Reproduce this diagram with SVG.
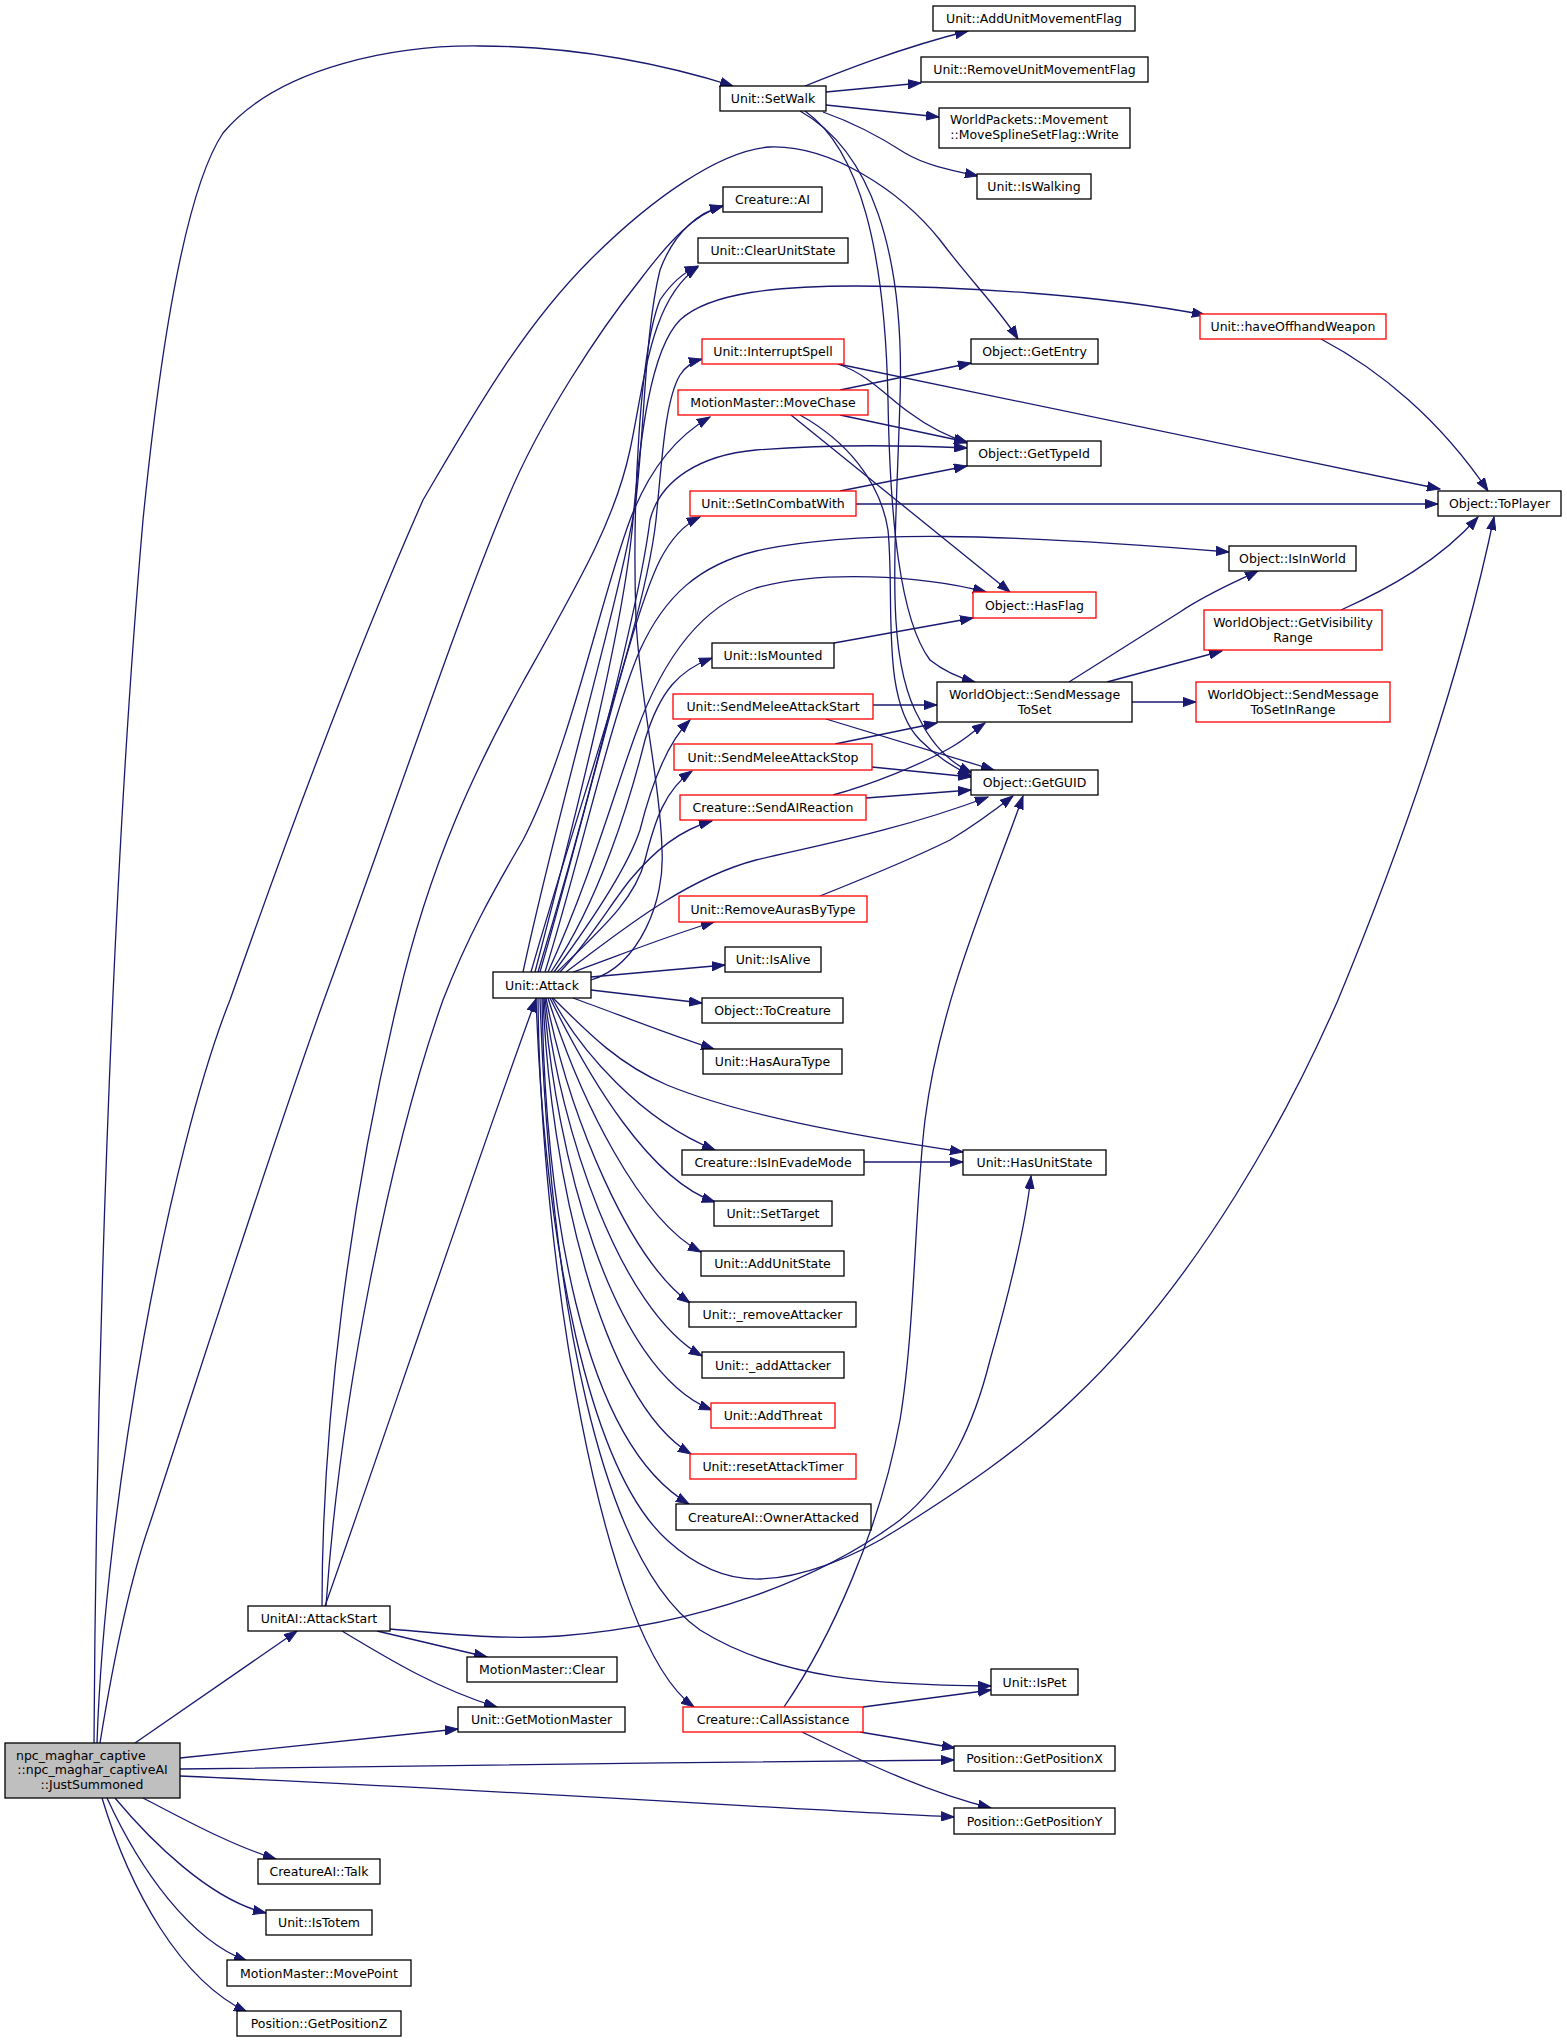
<svg xmlns="http://www.w3.org/2000/svg" width="1567" height="2043" viewBox="0 0 1567 2043">
<style>
.n rect{fill:#fff;stroke:#000;stroke-width:1.3}
.r rect{fill:#fff;stroke:#ff0000;stroke-width:1.3}
.m rect{fill:#bfbfbf;stroke:#000;stroke-width:1.3}
text{font-family:"DejaVu Sans","Liberation Sans",sans-serif;font-size:12.5px;text-anchor:middle;fill:#000}
text.s{text-anchor:start}
#edges path{fill:none;stroke:#191970;stroke-width:1.3;marker-end:url(#ah)}
</style>
<defs>
<marker id="ah" markerUnits="userSpaceOnUse" markerWidth="14" markerHeight="10" viewBox="0 0 14 10" refX="13" refY="5" orient="auto"><path d="M0,0.4 L13,5 L0,9.6 Z" fill="#191970" stroke="#191970" stroke-width="1"/></marker>
</defs>
<rect width="1567" height="2043" fill="#fff"/>
<g id="edges">
<path d="M94,1743 C96,1400 110,900 143,520 C160,350 185,190 223,133 C280,65 400,45 480,46 C580,46 670,66 733,86"/>
<path d="M97,1743 C105,1500 170,1150 230,1000 C300,800 370,620 423,500 C470,420 520,330 590,260 C650,200 720,150 770,147 C830,145 900,190 940,240 C970,280 1000,310 1018,339"/>
<path d="M100,1743 C115,1650 130,1580 150,1523 C210,1340 270,1150 324,1000 C390,820 460,610 507,500 C540,420 600,330 640,280 C670,240 695,214 723,206"/>
<path d="M135,1743 L297,1631"/>
<path d="M180,1758 L458,1729"/>
<path d="M180,1769 C400,1766 700,1762 954,1760"/>
<path d="M180,1776 C500,1790 800,1810 954,1817"/>
<path d="M143,1798 C180,1817 230,1845 276,1859"/>
<path d="M115,1798 C150,1840 210,1900 266,1913"/>
<path d="M107,1798 C140,1870 190,1940 247,1961"/>
<path d="M102,1798 C130,1890 180,1980 247,2012"/>
<path d="M325,1606 C370,1480 470,1180 536,999"/>
<path d="M377,1631 L487,1657"/>
<path d="M342,1631 C390,1660 440,1690 497,1707"/>
<path d="M390,1629 C450,1634 500,1640 560,1636 C700,1625 820,1580 900,1520 C950,1480 975,1420 990,1360 C1010,1290 1025,1230 1031,1176"/>
<path d="M322,1606 C322,1420 350,1200 398,1000 C430,860 480,760 523,682 C580,580 615,520 630,450 C645,380 650,300 698,267"/>
<path d="M326,1606 C340,1400 390,1150 443,1000 C470,930 500,880 523,840 C570,750 600,600 630,520 C645,480 670,440 710,417"/>
<path d="M523,972 C560,800 620,600 636,500 C645,420 645,330 660,270 C675,230 700,212 723,206"/>
<path d="M591,980 C640,965 665,900 662,850 C660,780 640,700 636,620 C632,500 640,350 660,300 C670,285 682,273 698,266"/>
<path d="M531,972 C580,800 645,620 656,520 C662,460 665,400 680,375 C686,366 694,361 702,359"/>
<path d="M535,972 C580,800 625,620 633,520 C640,440 650,350 680,320 C710,292 780,286 856,286 C960,286 1100,295 1205,315"/>
<path d="M540,972 C590,800 630,620 660,560 C672,537 685,524 700,517"/>
<path d="M538,972 C590,800 640,600 650,520 C660,480 700,455 756,450 C830,444 900,445 967,448"/>
<path d="M545,972 C580,860 610,720 640,650 C665,595 700,565 756,551 C850,530 1000,533 1229,552"/>
<path d="M548,972 C590,880 615,790 636,733 C655,680 690,610 756,588 C820,570 920,575 986,592"/>
<path d="M551,972 C600,900 630,800 645,740 C660,690 680,670 712,658"/>
<path d="M554,972 C600,910 630,860 640,830 C650,790 665,745 690,720"/>
<path d="M557,972 C600,930 635,900 645,860 C655,820 665,790 692,771"/>
<path d="M560,972 C590,940 610,905 630,880 C655,850 680,830 712,821"/>
<path d="M566,972 C610,940 680,880 756,860 C820,845 900,830 988,797"/>
<path d="M573,972 C620,955 670,935 714,922"/>
<path d="M591,977 L725,965"/>
<path d="M591,990 L702,1003"/>
<path d="M573,998 C620,1015 670,1035 714,1049"/>
<path d="M553,998 C590,1035 620,1065 667,1085 C740,1115 850,1135 963,1152"/>
<path d="M552,998 C580,1050 640,1120 715,1150"/>
<path d="M550,998 C590,1080 650,1180 715,1202"/>
<path d="M548,998 C580,1100 640,1220 701,1252"/>
<path d="M546,998 C570,1120 630,1260 690,1303"/>
<path d="M545,998 C560,1130 620,1310 702,1356"/>
<path d="M544,998 C555,1150 610,1370 712,1410"/>
<path d="M543,998 C550,1170 600,1400 691,1454"/>
<path d="M542,998 C545,1200 580,1440 689,1504"/>
<path d="M538,998 C540,1250 600,1640 694,1707"/>
<path d="M540,998 C550,1300 600,1560 700,1630 C780,1680 880,1685 991,1686"/>
<path d="M536,998 C545,1250 590,1470 667,1540 C700,1570 730,1580 760,1579 C800,1578 850,1560 900,1528 C960,1490 1020,1450 1072,1400 C1200,1280 1290,1110 1338,1000 C1400,850 1460,680 1494,517"/>
<path d="M805,86 C840,72 900,48 968,31"/>
<path d="M826,92 L921,83"/>
<path d="M826,105 L939,117"/>
<path d="M823,112 C860,125 885,140 905,153 C925,165 950,170 978,176"/>
<path d="M800,111 C870,150 905,250 900,400 C895,560 885,660 920,720 C935,750 955,765 972,773"/>
<path d="M805,111 C860,150 885,250 888,400 C890,520 900,620 930,660 C945,672 960,678 975,682"/>
<path d="M800,415 C845,440 880,480 888,530 C895,600 880,700 920,740 C940,760 955,767 971,776"/>
<path d="M840,390 L971,363"/>
<path d="M840,415 L967,442"/>
<path d="M791,415 L1010,592"/>
<path d="M838,364 C870,375 890,400 910,413 C930,428 950,437 968,443"/>
<path d="M838,364 L1440,489"/>
<path d="M840,491 L967,466"/>
<path d="M856,504 L1438,504"/>
<path d="M1321,339 C1380,370 1440,420 1488,491"/>
<path d="M1341,610 C1390,588 1440,560 1478,517"/>
<path d="M1069,682 C1120,650 1160,625 1180,612 C1210,592 1240,580 1258,571"/>
<path d="M1107,682 L1222,651"/>
<path d="M1132,702 L1196,702"/>
<path d="M834,643 L973,618"/>
<path d="M873,705 L937,705"/>
<path d="M826,719 L994,770"/>
<path d="M835,744 L937,723"/>
<path d="M872,767 L971,777"/>
<path d="M833,795 C870,785 920,765 950,748 C965,740 975,730 985,723"/>
<path d="M866,798 L971,790"/>
<path d="M820,896 C860,880 910,860 950,840 C975,825 995,810 1013,796"/>
<path d="M784,1707 C830,1640 880,1530 900,1420 C915,1330 915,1200 925,1120 C940,1000 990,890 1023,796"/>
<path d="M863,1707 L991,1690"/>
<path d="M860,1732 L955,1748"/>
<path d="M802,1732 C860,1760 920,1790 991,1808"/>
<path d="M864,1162 L963,1162"/>
</g>
<g id="node_main" class="m"><rect x="5" y="1743" width="175" height="55"/><text class="s" x="16" y="1759.5">npc_maghar_captive</text><text x="92.5" y="1774">::npc_maghar_captiveAI</text><text x="92" y="1788.5">::JustSummoned</text></g>
<g id="node_attackstart" class="n"><rect x="248" y="1606" width="142" height="25"/><text x="319" y="1623">UnitAI::AttackStart</text></g>
<g id="node_mmclear" class="n"><rect x="467" y="1657" width="150" height="25"/><text x="542" y="1674">MotionMaster::Clear</text></g>
<g id="node_getmotionmaster" class="n"><rect x="458" y="1707" width="167" height="25"/><text x="541.5" y="1724">Unit::GetMotionMaster</text></g>
<g id="node_talk" class="n"><rect x="258" y="1859" width="122" height="25"/><text x="319" y="1876">CreatureAI::Talk</text></g>
<g id="node_istotem" class="n"><rect x="266" y="1910" width="106" height="25"/><text x="319" y="1927">Unit::IsTotem</text></g>
<g id="node_movepoint" class="n"><rect x="227" y="1960" width="184" height="26"/><text x="319" y="1977.5">MotionMaster::MovePoint</text></g>
<g id="node_posz" class="n"><rect x="237" y="2011" width="164" height="25"/><text x="319" y="2028">Position::GetPositionZ</text></g>
<g id="node_attack" class="n"><rect x="493" y="972" width="98" height="26"/><text x="542" y="989.5">Unit::Attack</text></g>
<g id="node_setwalk" class="n"><rect x="720" y="86" width="106" height="25"/><text x="773" y="103">Unit::SetWalk</text></g>
<g id="node_addmoveflag" class="n"><rect x="933" y="6" width="202" height="25"/><text x="1034" y="23">Unit::AddUnitMovementFlag</text></g>
<g id="node_removemoveflag" class="n"><rect x="921" y="57" width="227" height="25"/><text x="1034.5" y="74">Unit::RemoveUnitMovementFlag</text></g>
<g id="node_splineflag" class="n"><rect x="939" y="108" width="191" height="40"/><text class="s" x="950" y="124">WorldPackets::Movement</text><text x="1034.5" y="138.5">::MoveSplineSetFlag::Write</text></g>
<g id="node_iswalking" class="n"><rect x="977" y="174" width="114" height="25"/><text x="1034" y="191">Unit::IsWalking</text></g>
<g id="node_creatureai" class="n"><rect x="723" y="187" width="99" height="25"/><text x="772.5" y="204">Creature::AI</text></g>
<g id="node_clearunitstate" class="n"><rect x="698" y="238" width="150" height="25"/><text x="773" y="255">Unit::ClearUnitState</text></g>
<g id="node_offhand" class="r"><rect x="1200" y="314" width="186" height="25"/><text x="1293" y="331">Unit::haveOffhandWeapon</text></g>
<g id="node_interrupt" class="r"><rect x="702" y="339" width="142" height="25"/><text x="773" y="356">Unit::InterruptSpell</text></g>
<g id="node_getentry" class="n"><rect x="971" y="339" width="127" height="25"/><text x="1034.5" y="356">Object::GetEntry</text></g>
<g id="node_movechase" class="r"><rect x="678" y="390" width="190" height="25"/><text x="773" y="407">MotionMaster::MoveChase</text></g>
<g id="node_gettypeid" class="n"><rect x="967" y="441" width="134" height="25"/><text x="1034" y="458">Object::GetTypeId</text></g>
<g id="node_incombat" class="r"><rect x="690" y="491" width="166" height="25"/><text x="773" y="508">Unit::SetInCombatWith</text></g>
<g id="node_toplayer" class="n"><rect x="1438" y="491" width="123" height="25"/><text x="1499.5" y="508">Object::ToPlayer</text></g>
<g id="node_isinworld" class="n"><rect x="1229" y="546" width="127" height="25"/><text x="1292.5" y="563">Object::IsInWorld</text></g>
<g id="node_hasflag" class="r"><rect x="973" y="592" width="123" height="26"/><text x="1034.5" y="609.5">Object::HasFlag</text></g>
<g id="node_ismounted" class="n"><rect x="712" y="643" width="122" height="25"/><text x="773" y="660">Unit::IsMounted</text></g>
<g id="node_visrange" class="r"><rect x="1204" y="610" width="178" height="40"/><text x="1293" y="627">WorldObject::GetVisibility</text><text x="1293" y="641.5">Range</text></g>
<g id="node_sendmsgset" class="n"><rect x="937" y="682" width="195" height="40"/><text x="1034.5" y="699">WorldObject::SendMessage</text><text x="1034.5" y="713.5">ToSet</text></g>
<g id="node_sendmsgrange" class="r"><rect x="1196" y="682" width="194" height="40"/><text x="1293" y="699">WorldObject::SendMessage</text><text x="1293" y="713.5">ToSetInRange</text></g>
<g id="node_meleestart" class="r"><rect x="673" y="694" width="200" height="25"/><text x="773" y="711">Unit::SendMeleeAttackStart</text></g>
<g id="node_meleestop" class="r"><rect x="674" y="744" width="198" height="26"/><text x="773" y="761.5">Unit::SendMeleeAttackStop</text></g>
<g id="node_getguid" class="n"><rect x="971" y="770" width="127" height="25"/><text x="1034.5" y="787">Object::GetGUID</text></g>
<g id="node_aireaction" class="r"><rect x="680" y="795" width="186" height="25"/><text x="773" y="812">Creature::SendAIReaction</text></g>
<g id="node_removeauras" class="r"><rect x="679" y="896" width="188" height="26"/><text x="773" y="913.5">Unit::RemoveAurasByType</text></g>
<g id="node_isalive" class="n"><rect x="725" y="947" width="96" height="25"/><text x="773" y="964">Unit::IsAlive</text></g>
<g id="node_tocreature" class="n"><rect x="702" y="998" width="141" height="25"/><text x="772.5" y="1015">Object::ToCreature</text></g>
<g id="node_hasauratype" class="n"><rect x="703" y="1049" width="139" height="25"/><text x="772.5" y="1066">Unit::HasAuraType</text></g>
<g id="node_evade" class="n"><rect x="682" y="1150" width="182" height="25"/><text x="773" y="1167">Creature::IsInEvadeMode</text></g>
<g id="node_hasunitstate" class="n"><rect x="963" y="1150" width="143" height="25"/><text x="1034.5" y="1167">Unit::HasUnitState</text></g>
<g id="node_settarget" class="n"><rect x="714" y="1201" width="118" height="25"/><text x="773" y="1218">Unit::SetTarget</text></g>
<g id="node_addunitstate" class="n"><rect x="701" y="1251" width="143" height="25"/><text x="772.5" y="1268">Unit::AddUnitState</text></g>
<g id="node_removeattacker" class="n"><rect x="689" y="1302" width="167" height="25"/><text x="772.5" y="1319">Unit::_removeAttacker</text></g>
<g id="node_addattacker" class="n"><rect x="702" y="1352" width="142" height="26"/><text x="773" y="1369.5">Unit::_addAttacker</text></g>
<g id="node_addthreat" class="r"><rect x="711" y="1403" width="124" height="25"/><text x="773" y="1420">Unit::AddThreat</text></g>
<g id="node_resettimer" class="r"><rect x="690" y="1454" width="166" height="25"/><text x="773" y="1471">Unit::resetAttackTimer</text></g>
<g id="node_ownerattacked" class="n"><rect x="676" y="1504" width="195" height="26"/><text x="773.5" y="1521.5">CreatureAI::OwnerAttacked</text></g>
<g id="node_callassist" class="r"><rect x="683" y="1707" width="180" height="25"/><text x="773" y="1724">Creature::CallAssistance</text></g>
<g id="node_ispet" class="n"><rect x="991" y="1669" width="87" height="26"/><text x="1034.5" y="1686.5">Unit::IsPet</text></g>
<g id="node_posx" class="n"><rect x="954" y="1746" width="161" height="25"/><text x="1034.5" y="1763">Position::GetPositionX</text></g>
<g id="node_posy" class="n"><rect x="954" y="1808" width="161" height="26"/><text x="1034.5" y="1825.5">Position::GetPositionY</text></g>
</svg>
